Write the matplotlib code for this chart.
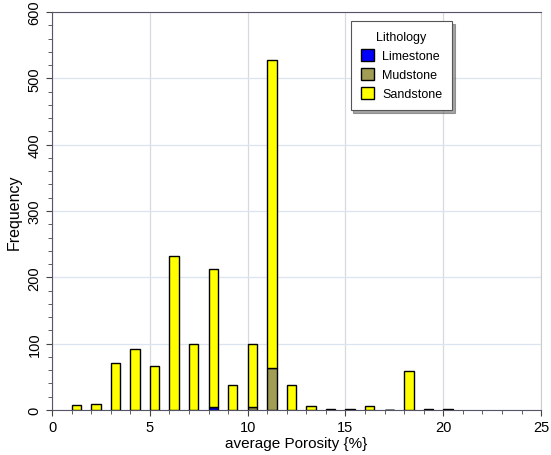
import matplotlib.pyplot as plt
import numpy as np
from matplotlib.ticker import MultipleLocator

plt.rcParams['font.family'] = ['Liberation Sans', 'DejaVu Sans']

# bin left edges (average porosity, %)
bins = np.arange(1, 21)
limestone = [0, 0, 0, 0, 0, 0, 0, 4, 0, 0, 0, 0, 0, 0, 0, 0, 0, 0, 0, 0]
mudstone = [0, 0, 0, 0, 0, 0, 0, 0, 0, 4, 64, 0, 0, 0, 0, 0, 0, 0, 0, 0]
sandstone = [7, 9, 71, 92, 67, 232, 100, 208, 37, 96, 463, 37, 6, 1, 1, 6, 0, 59, 1, 1]

fig = plt.figure(figsize=(5.51, 4.56), dpi=100)
ax = fig.add_axes([0.0944, 0.0987, 0.8876, 0.8728])

lime = np.array(limestone)
mud = np.array(mudstone)
sand = np.array(sandstone)
w = 0.48
ax.bar(bins, lime, width=w, align='edge', color='#0000ff', edgecolor='black', lw=1, label='Limestone', zorder=3)
ax.bar(bins, mud, width=w, bottom=lime, align='edge', color='#a19d55', edgecolor='black', lw=1, label='Mudstone', zorder=3)
ax.bar(bins, sand, width=w, bottom=lime + mud, align='edge', color='#ffff00', edgecolor='black', lw=1, label='Sandstone', zorder=3)

ax.set_xlim(0, 25)
ax.set_ylim(0, 600)
ax.xaxis.set_major_locator(MultipleLocator(5))
ax.xaxis.set_minor_locator(MultipleLocator(1))
ax.yaxis.set_major_locator(MultipleLocator(100))
ax.yaxis.set_minor_locator(MultipleLocator(20))
ax.tick_params(which='both', labelsize=10.5, color='#444444', length=4)
ax.tick_params(which='minor', length=3)
for lbl in ax.get_yticklabels():
    lbl.set_rotation(90)
    lbl.set_va('center')

ax.grid(axis='x', which='major', color='#d8d8e0', lw=0.9, zorder=0)
ax.grid(axis='y', which='major', color='#dce4f0', lw=0.9, zorder=0)

for s in ['left', 'bottom', 'top']:
    ax.spines[s].set_color('#555566')
ax.spines['right'].set_color('#cccccc')

ax.set_xlabel('average Porosity {%}', fontsize=11, labelpad=1)
ax.set_ylabel('Frequency', fontsize=11.5, labelpad=4)

leg = ax.legend(title='Lithology', loc='upper right', bbox_to_anchor=(0.818, 0.977),
                fancybox=False, shadow=True, edgecolor='#555555', fontsize=9,
                title_fontsize=9, handlelength=1.1, handleheight=1.1,
                borderpad=0.8, labelspacing=0.45, handletextpad=0.6,
                borderaxespad=0, framealpha=1)
leg.get_frame().set_linewidth(0.8)

fig.savefig('out.png', dpi=100)
